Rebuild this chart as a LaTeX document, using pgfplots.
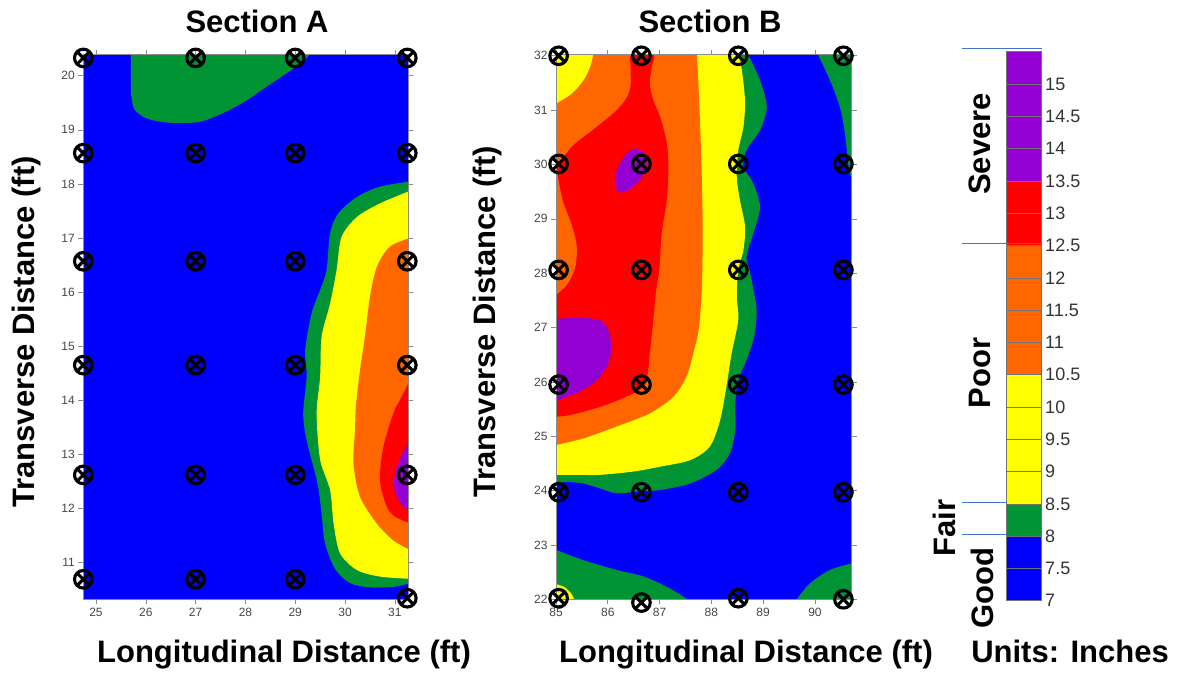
\documentclass[border=0pt]{standalone}
\usepackage{fontspec}
\setmainfont{Liberation Sans}
\usepackage{pgfplots}
\pgfplotsset{compat=1.18}
\usetikzlibrary{plotmarks}
\definecolor{cblue}{RGB}{0,0,255}
\definecolor{cgreen}{RGB}{0,148,52}
\definecolor{cyellow}{RGB}{255,255,0}
\definecolor{corange}{RGB}{255,102,0}
\definecolor{cred}{RGB}{255,0,0}
\definecolor{cpurple}{RGB}{148,0,211}
\definecolor{annot}{RGB}{68,114,196}
\definecolor{ticklab}{RGB}{70,70,70}
\newcommand{\bigfont}{\bfseries\fontsize{31}{31}\selectfont}
\pgfplotsset{
  field/.style={anchor=south west, scale only axis, axis on top,
    tick align=outside, major tick length=5pt,
    axis line style={draw=black!45, line width=0.6pt},
    tick style={draw=black!45, line width=0.6pt},
    ticklabel style={font=\fontsize{12}{12}\selectfont, text=ticklab},
    /pgf/number format/assume math mode=true, clip=true},
  marksaxis/.style={anchor=south west, scale only axis, hide axis, clip=false},
  region/.style={draw=none, fill=#1, smooth, forget plot},
  flat/.style={draw=none, fill=#1, forget plot},
  mk/.style={only marks, mark=otimes, mark size=8.8pt, line width=3.1pt,
    mark options={draw=black, line width=3.1pt, solid}},
}
\begin{document}
\begin{tikzpicture}
\useasboundingbox (0pt,0pt) rectangle (1178pt,680pt);
%================ Section A =================
\begin{axis}[field, at={(83.3pt,80.7pt)}, width=325pt, height=544.6pt,
  xmin=24.745, xmax=31.27, ymin=10.32, ymax=20.39,
  xtick={25,26,27,28,29,30,31}, ytick={11,12,13,14,15,16,17,18,19,20}]
\addplot[flat=cblue] coordinates {(24.745,10.32) (31.27,10.32) (31.27,20.39) (24.745,20.39)};
\addplot[region=cgreen] coordinates {(25.70,20.39) (25.70,20.1) (25.70,19.74) (25.72,19.55) (25.78,19.37) (26.02,19.21) (26.49,19.13) (27.09,19.15) (27.62,19.34) (28.03,19.55) (28.43,19.80) (28.83,20.05) (29.16,20.26) (29.28,20.39)};
\addplot[region=cgreen] coordinates {(31.27,18.04) (30.70,17.95) (30.24,17.76) (29.87,17.46) (29.70,17.09) (29.63,16.41) (29.50,16.04) (29.33,15.61) (29.20,14.93) (29.23,14.44) (29.16,13.76) (29.23,13.26) (29.45,12.45) (29.53,11.88) (29.60,11.35) (29.80,10.88) (30.10,10.62) (30.50,10.54) (30.97,10.55) (31.27,10.61)};
\addplot[region=cyellow] coordinates {(31.27,17.86) (30.70,17.64) (30.24,17.39) (29.93,17.02) (29.83,16.41) (29.70,15.79) (29.53,15.18) (29.50,14.44) (29.43,13.76) (29.50,12.90) (29.70,12.34) (29.77,11.72) (29.90,11.17) (30.24,10.86) (30.70,10.74) (31.27,10.70)};
\addplot[region=corange] coordinates {(31.27,16.99) (30.90,16.84) (30.64,16.47) (30.50,15.91) (30.40,15.18) (30.30,14.55) (30.22,13.9) (30.20,13.45) (30.17,12.83) (30.30,12.22) (30.64,11.72) (30.97,11.41) (31.27,11.25)};
\addplot[region=cred] coordinates {(31.27,14.31) (31.10,14.0) (30.97,13.76) (30.77,13.14) (30.70,12.52) (30.84,12.03) (31.0,11.85) (31.27,11.74)};
\addplot[region=cpurple] coordinates {(31.27,13.22) (31.12,12.95) (31.02,12.7) (30.98,12.45) (31.05,12.2) (31.15,12.05) (31.27,11.97)};
\end{axis}
\begin{axis}[marksaxis, at={(83.3pt,80.7pt)}, width=325pt, height=544.6pt,
  xmin=24.745, xmax=31.27, ymin=10.32, ymax=20.39]
\addplot[mk] coordinates {
 (24.745,20.33) (27.0,20.33) (29.0,20.33) (31.25,20.33)
 (24.745,18.57) (27.0,18.57) (29.0,18.57) (31.25,18.57)
 (24.745,16.57) (27.0,16.57) (29.0,16.57) (31.25,16.57)
 (24.745,14.65) (27.0,14.65) (29.0,14.65) (31.25,14.65)
 (24.745,12.62) (27.0,12.62) (29.0,12.62) (31.25,12.62)
 (24.745,10.69) (27.0,10.69) (29.0,10.69) (31.25,10.34)};
\end{axis}
%================ Section B =================
\begin{axis}[field, at={(556pt,80.7pt)}, width=295.7pt, height=544.6pt,
  xmin=85, xmax=90.71, ymin=22, ymax=32.02,
  xtick={85,86,87,88,89,90}, ytick={22,23,24,25,26,27,28,29,30,31,32}]
\addplot[flat=cblue] coordinates {(85,22) (90.71,22) (90.71,32.02) (85,32.02)};
\addplot[region=cgreen] coordinates {(88.71,32.02) (88.94,31.55) (89.07,31.06) (88.94,30.63) (88.68,30.27) (88.62,29.96) (88.81,29.65) (88.94,29.22) (88.81,28.73) (88.68,28.30) (88.75,28.00) (88.87,27.38) (88.86,27.05) (88.81,26.77) (88.68,26.40) (88.52,26.03) (88.46,25.60) (88.46,25.12) (88.36,24.69) (88.10,24.38) (87.59,24.13) (87.01,24.01) (86.56,23.98) (86.17,23.95) (85.85,24.04) (85.53,24.13) (85.21,24.16) (85,24.13)} -- (axis cs:85,32.02) -- cycle;
\addplot[region=cgreen] coordinates {(85,22.91) (85.53,22.72) (86.17,22.54) (86.69,22.42) (87.14,22.23) (87.46,22.05) (87.52,22.0)} -- (axis cs:85,22) -- cycle;
\addplot[region=cgreen] coordinates {(90.06,32.02) (90.29,31.55) (90.48,31.06) (90.58,30.57) (90.64,30.02) (90.71,29.71)} -- (axis cs:90.71,32.02) -- cycle;
\addplot[region=cgreen] coordinates {(89.65,22) (89.90,22.29) (90.29,22.54) (90.71,22.66)} -- (axis cs:90.71,22) -- cycle;
\addplot[region=cyellow] coordinates {(88.52,32.02) (88.58,31.80) (88.65,31.18) (88.62,30.70) (88.52,30.26) (88.49,29.78) (88.55,29.35) (88.65,28.86) (88.62,28.43) (88.52,28.06) (88.49,27.58) (88.52,27.14) (88.39,26.52) (88.29,25.91) (88.17,25.30) (87.97,24.81) (87.59,24.56) (87.01,24.44) (86.49,24.35) (85.85,24.29) (85.40,24.29) (85,24.29)} -- (axis cs:85,32.02) -- cycle;
\addplot[region=cyellow] coordinates {(85,22.28) (85.17,22.22) (85.30,22.1) (85.35,22)} -- (axis cs:85,22) -- cycle;
\addplot[region=corange] coordinates {(87.72,32.02) (87.75,31.49) (87.80,30.26) (87.83,29.04) (87.82,27.81) (87.76,27.0) (87.65,26.52) (87.52,26.10) (87.27,25.73) (86.81,25.42) (86.17,25.18) (85.53,24.96) (85,24.84)} -- (axis cs:85,32.02) -- cycle;
\addplot[region=cyellow] coordinates {(85.72,32.02) (85.66,31.8) (85.53,31.55) (85.3,31.3) (85,31.12)} -- (axis cs:85,32.02) -- cycle;
\addplot[region=cred] coordinates {(85,25.36) (85.27,25.39) (85.85,25.54) (86.36,25.73) (86.69,25.91) (86.78,26.22) (86.81,26.52) (86.88,27.14) (86.92,27.58) (87.0,28.12) (87.04,28.73) (87.14,29.35) (87.17,29.96) (87.14,30.39) (87.01,30.88) (86.88,31.18) (86.81,31.49) (86.85,31.8) (86.88,32.02) (86.46,32.02) (86.44,31.8) (86.44,31.45) (86.36,31.22) (86.14,30.97) (85.69,30.62) (85.33,30.35) (85.08,30.05) (85,29.9)};
\addplot[region=corange] coordinates {(85,30.0) (85.05,29.7) (85.14,29.3) (85.30,28.9) (85.40,28.5) (85.37,28.1) (85.22,27.8) (85,27.6)};
\addplot[region=cpurple] coordinates {(85,27.16) (85.5,27.18) (85.85,27.13) (86.01,26.95) (86.07,26.65) (86.01,26.34) (85.79,26.03) (85.46,25.82) (85.14,25.70) (85,25.64)};
\addplot[region=cpurple] coordinates {(86.55,30.30) (86.70,30.20) (86.75,30.0) (86.68,29.8) (86.50,29.6) (86.30,29.48) (86.17,29.55) (86.14,29.75) (86.22,30.0) (86.38,30.22) (86.55,30.30)};
\end{axis}
\begin{axis}[marksaxis, at={(556pt,80.7pt)}, width=295.7pt, height=544.6pt,
  xmin=85, xmax=90.71, ymin=22, ymax=32.02]
\addplot[mk] coordinates {
 (85.05,32) (86.65,32) (88.52,32) (90.55,32)
 (85.05,30.01) (86.65,30.01) (88.52,30.01) (90.55,30.01)
 (85.05,28.06) (86.65,28.06) (88.52,28.06) (90.55,28.06)
 (85.05,25.95) (86.65,25.95) (88.52,25.95) (90.55,25.95)
 (85.05,23.97) (86.65,23.97) (88.52,23.97) (90.55,23.97)
 (85.05,22.02) (86.65,21.94) (88.52,22.02) (90.55,22.0)};
\end{axis}
%================ Colour bar =================
\begin{axis}[anchor=south west, at={(1006pt,79.3pt)}, scale only axis,
  width=35.7pt, height=549pt, xmin=0, xmax=1, ymin=7, ymax=15.5, xtick=\empty,
  ytick={7,7.5,8,8.5,9,9.5,10,10.5,11,11.5,12,12.5,13,13.5,14,14.5,15},
  yticklabels={7,7.5,8,8.5,9,9.5,10,10.5,11,11.5,12,12.5,13,13.5,14,14.5,15},
  ytick pos=right, yticklabel pos=right, tick align=inside, major tick length=35.7pt,
  tick style={draw=black!55, line width=0.5pt},
  axis line style={draw=black!55, line width=0.5pt},
  yticklabel style={font=\fontsize{18}{18}\selectfont, text=black!80},
  axis on top, clip=false]
\addplot[flat=cblue] coordinates {(0,7) (1,7) (1,8) (0,8)};
\addplot[flat=cgreen] coordinates {(0,8) (1,8) (1,8.5) (0,8.5)};
\addplot[flat=cyellow] coordinates {(0,8.5) (1,8.5) (1,10.5) (0,10.5)};
\addplot[flat=corange] coordinates {(0,10.5) (1,10.5) (1,12.5) (0,12.5)};
\addplot[flat=cred] coordinates {(0,12.5) (1,12.5) (1,13.5) (0,13.5)};
\addplot[flat=cpurple] coordinates {(0,13.5) (1,13.5) (1,15.5) (0,15.5)};
\draw[annot, line width=1.3pt] (axis cs:-1.24,15.55) -- (axis cs:1,15.55);
\draw[annot, line width=1.3pt] (axis cs:-1.24,12.53) -- (axis cs:1,12.53);
\draw[annot, line width=1.3pt] (axis cs:-1.24,8.52) -- (axis cs:0,8.52);
\draw[annot, line width=1.3pt] (axis cs:-1.24,8.03) -- (axis cs:0,8.03);
\end{axis}
%================ Texts =================
\node[font=\bigfont, anchor=base] at (257pt,647pt) {Section A};
\node[font=\bigfont, anchor=base] at (710pt,647pt) {Section B};
\node[font=\bigfont, rotate=90] at (26pt,348pt) {Transverse Distance (ft)};
\node[font=\bigfont, rotate=90] at (487pt,358pt) {Transverse Distance (ft)};
\node[font=\bigfont, anchor=base] at (284pt,17pt) {Longitudinal Distance (ft)};
\node[font=\bigfont, anchor=base] at (746pt,17pt) {Longitudinal Distance (ft)};
\node[font=\bigfont, anchor=base] at (1070pt,17pt) {Units: Inches};
\node[font=\bigfont, rotate=90] at (980pt,536pt) {Severe};
\node[font=\bigfont, rotate=90] at (980pt,307pt) {Poor};
\node[font=\bigfont, rotate=90] at (944pt,152pt) {Fair};
\node[font=\bigfont, rotate=90] at (982pt,92pt) {Good};
\end{tikzpicture}
\end{document}
